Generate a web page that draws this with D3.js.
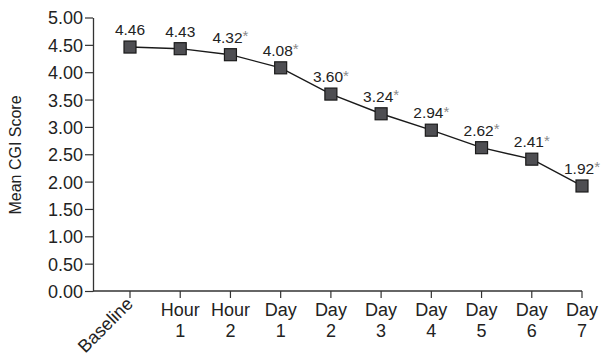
<!DOCTYPE html>
<html>
<head>
<meta charset="utf-8">
<script src="https://cdn.jsdelivr.net/npm/d3@7"></script>
<style>
  html, body { margin: 0; padding: 0; background: #fff; }
  svg { display: block; font-family: "Liberation Sans", Arial, Helvetica, sans-serif; }
</style>
</head>
<body>
<svg id="chart" width="609" height="359"></svg>
<script>
// Time points and mean CGI scores
const categories = ["Baseline", "Hour 1", "Hour 2", "Day 1", "Day 2", "Day 3", "Day 4", "Day 5", "Day 6", "Day 7"];
const scores = [4.46, 4.43, 4.32, 4.08, 3.60, 3.24, 2.94, 2.62, 2.41, 1.92];
const significant = [false, false, true, true, true, true, true, true, true, true];
const yTicks = [0, 0.5, 1, 1.5, 2, 2.5, 3, 3.5, 4, 4.5, 5];

const svg = d3.select("#chart");
const axisColor = "#333";
const textColor = "#222";

const axisLeftX = 93, axisBottomY = 291;

const x = d3.scalePoint().domain(categories).range([130, 582]);
const y = d3.scaleLinear().domain([0, 5]).range([axisBottomY, 17.5]);

// Y axis
const yAxis = svg.append("g")
  .attr("transform", `translate(${axisLeftX},0)`)
  .call(d3.axisLeft(y).tickValues(yTicks).tickFormat(d3.format(".2f")).tickSize(8).tickSizeOuter(0));
yAxis.select(".domain").attr("stroke", axisColor).attr("stroke-width", 1.3);
yAxis.selectAll(".tick line").attr("stroke", axisColor).attr("stroke-width", 1.2);
yAxis.selectAll(".tick text")
  .attr("font-size", 18).attr("fill", textColor).attr("x", -10).attr("dy", "0.36em")
  .attr("font-family", "Liberation Sans, Arial, sans-serif");

// X axis
const xAxisG = svg.append("g").attr("transform", `translate(0,${axisBottomY})`);
xAxisG.append("line")
  .attr("x1", axisLeftX).attr("x2", x(categories[categories.length - 1]))
  .attr("stroke", axisColor).attr("stroke-width", 1.3);
xAxisG.selectAll("line.tick").data(categories).join("line")
  .attr("class", "tick")
  .attr("x1", d => x(d)).attr("x2", d => x(d))
  .attr("y1", 0).attr("y2", 7)
  .attr("stroke", axisColor).attr("stroke-width", 1.2);

const xLabels = xAxisG.selectAll("text.xlab").data(categories).join("text")
  .attr("class", "xlab")
  .attr("fill", textColor)
  .attr("font-size", 18);

xLabels.each(function(d) {
  const t = d3.select(this);
  const cx = x(d);
  if (d === "Baseline") {
    // first label is slanted so it sits clear of the axis corner
    t.attr("text-anchor", "end")
      .attr("transform", `translate(${cx + 4},${14}) rotate(-45)`)
      .text(d);
  } else {
    const parts = d.split(" ");
    t.attr("text-anchor", "middle");
    t.append("tspan").attr("x", cx).attr("y", 25).text(parts[0]);
    t.append("tspan").attr("x", cx).attr("y", 46).text(parts[1]);
  }
});

// Y axis title
svg.append("text")
  .attr("transform", `translate(21,155) rotate(-90)`)
  .attr("text-anchor", "middle")
  .attr("font-size", 16)
  .attr("fill", textColor)
  .text("Mean CGI Score");

// Line
const line = d3.line().x((d, i) => x(categories[i])).y(d => y(d));
svg.append("path")
  .datum(scores)
  .attr("d", line)
  .attr("fill", "none")
  .attr("stroke", "#1a1a1a")
  .attr("stroke-width", 1.4);

// Markers
const size = 12;
svg.selectAll("rect.marker").data(scores).join("rect")
  .attr("class", "marker")
  .attr("x", (d, i) => x(categories[i]) - size / 2)
  .attr("y", d => y(d) - size / 2)
  .attr("width", size).attr("height", size)
  .attr("fill", "#4e4e52")
  .attr("stroke", "#1a1a1a")
  .attr("stroke-width", 1.2);

// Value labels
const labels = svg.selectAll("text.val").data(scores).join("text")
  .attr("class", "val")
  .attr("text-anchor", "middle")
  .attr("x", (d, i) => x(categories[i]))
  .attr("y", d => y(d) - 12)
  .attr("font-size", 15.5)
  .attr("fill", textColor);
labels.append("tspan").text(d => d3.format(".2f")(d));
labels.filter((d, i) => significant[i]).append("tspan")
  .attr("fill", "#8a8a8a")
  .attr("font-size", 15)
  .attr("dy", "-0.1em")
  .text("*");
</script>
</body>
</html>
